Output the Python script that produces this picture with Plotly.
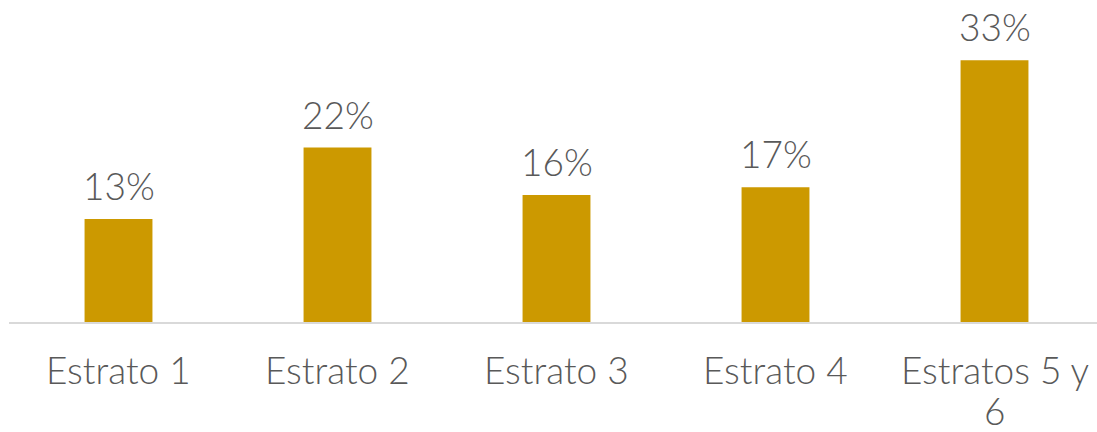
import plotly.graph_objects as go

categories = ["Estrato 1", "Estrato 2", "Estrato 3", "Estrato 4", "Estratos 5 y<br>6"]
values = [13, 22, 16, 17, 33]
value_labels = ["13%", "22%", "16%", "17%", "33%"]

LABEL_FONT = dict(size=37, color="#595959", family="Lato, sans-serif", weight=300)

fig = go.Figure(
    go.Bar(
        x=categories,
        y=values,
        cliponaxis=False,
        marker=dict(color="#CC9900", line=dict(width=0)),
        width=0.31,
    )
)

# value labels sitting above each bar
for cat, val, lab in zip(categories, values, value_labels):
    fig.add_annotation(
        x=cat, y=val, text=lab, showarrow=False,
        xanchor="center", yanchor="bottom", yshift=10, borderpad=0,
        font=LABEL_FONT,
    )

# category labels under the axis: first lines share one row,
# the wrapped second line sits in the row below
FIRST_ROW_SHIFT = -47
SECOND_ROW_SHIFT = -88
for cat in categories:
    for i, line in enumerate(cat.split("<br>")):
        fig.add_annotation(
            x=cat, xref="x", y=0, yref="paper", text=line, showarrow=False,
            xanchor="center", yanchor="middle",
            yshift=FIRST_ROW_SHIFT if i == 0 else SECOND_ROW_SHIFT,
            borderpad=0, font=LABEL_FONT,
        )

fig.update_layout(
    width=1097,
    height=432,
    margin=dict(l=9, r=0, t=0, b=110, autoexpand=False),
    paper_bgcolor="white",
    plot_bgcolor="white",
    font=dict(family="Lato, sans-serif", color="#595959", size=37, weight=300),
    showlegend=False,
)

fig.update_xaxes(
    range=[-0.5, 4.468],
    showline=True,
    linecolor="#D9D9D9",
    linewidth=2,
    ticks="",
    showgrid=False,
    automargin=False,
    showticklabels=False,
)
fig.update_yaxes(
    range=[0, 40.6],
    visible=False,
    showgrid=False,
    zeroline=False,
    automargin=False,
)

fig.write_html("out.html")
